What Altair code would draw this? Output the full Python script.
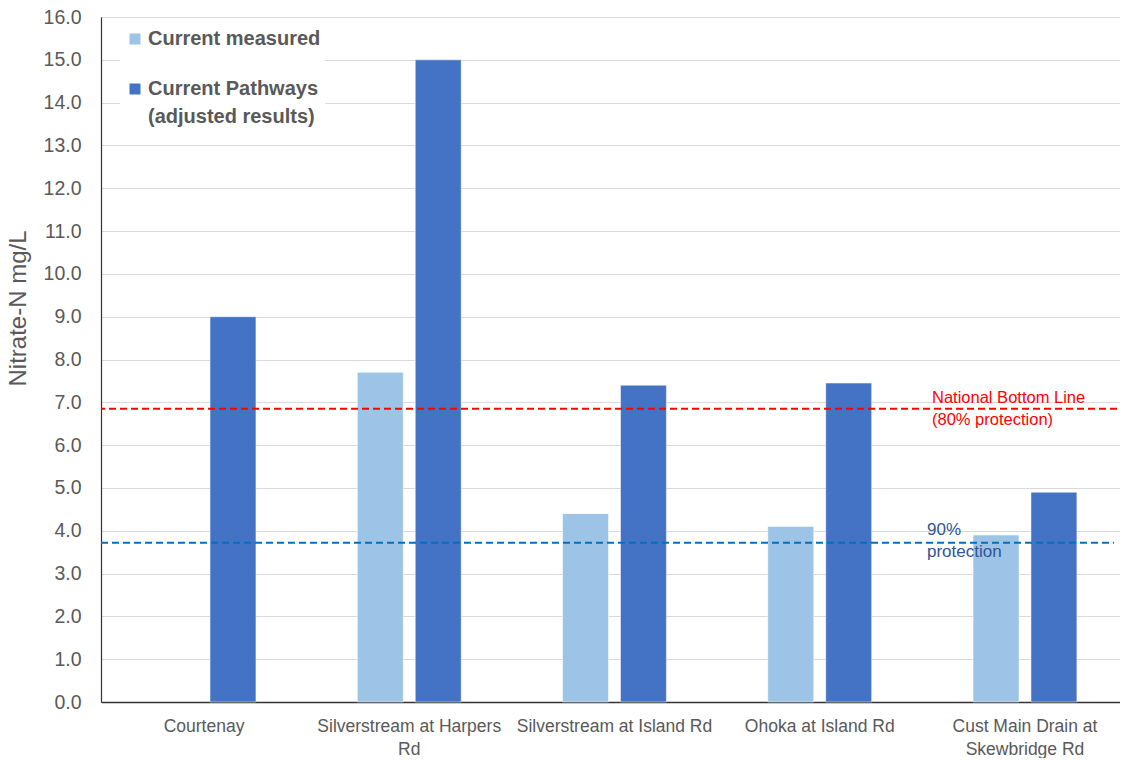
import altair as alt
import pandas as pd

sites = ["Courtenay", "Silverstream at Harpers Rd", "Silverstream at Island Rd",
         "Ohoka at Island Rd", "Cust Main Drain at Skewbridge Rd"]
measured = [None, 7.7, 4.4, 4.1, 3.9]
pathways = [9.0, 15.0, 7.4, 7.45, 4.9]
series = ["Current measured", "Current Pathways (adjusted results)"]
legend_lines = [["Current measured"], ["Current Pathways", "(adjusted results)"]]
colors = ["#9DC3E6", "#4472C4"]

nbl_value = 6.85
p90_value = 3.72

rows = []
for s, m, p in zip(sites, measured, pathways):
    if m is not None:
        rows.append({"site": s, "series": series[0], "value": m})
    rows.append({"site": s, "series": series[1], "value": p})
df = pd.DataFrame(rows)

FONT = "Liberation Sans"
GREY = "#595959"

label_expr = ("datum.value == 'Silverstream at Harpers Rd' ? ['Silverstream at Harpers', 'Rd'] : "
              "datum.value == 'Cust Main Drain at Skewbridge Rd' ? ['Cust Main Drain at', 'Skewbridge Rd'] : datum.value")

x_enc = alt.X("site:N", sort=sites, title=None,
              scale=alt.Scale(paddingInner=0.494, paddingOuter=0.249),
              axis=alt.Axis(labelAngle=0, labelExpr=label_expr, labelFont=FONT,
                            labelFontSize=17.5, labelColor=GREY, ticks=False, labelLimit=400,
                            domainColor="#333333", domainWidth=1.5, labelPadding=15,
                            labelLineHeight=23, labelBaseline="top"))
y_enc = alt.Y("value:Q", title="Nitrate-N mg/L",
              scale=alt.Scale(domain=[0, 16], nice=False),
              axis=alt.Axis(values=list(range(0, 17)), format=".1f", labelFont=FONT,
                            labelFontSize=19.5, labelColor=GREY, ticks=False,
                            domainColor="#333333", domainWidth=1.2, labelPadding=20,
                            gridColor="#D9D9D9", gridWidth=1.2,
                            titleFont=FONT, titleFontSize=24, titleFontWeight="normal",
                            titleColor=GREY, titleX=-71, titleY=291, titleAngle=-90,
                            titleAlign="center", titleBaseline="bottom"))

bars = alt.Chart(df).mark_bar(stroke="white", strokeOpacity=0.5, strokeWidth=1).encode(
    x=x_enc,
    xOffset=alt.XOffset("series:N", sort=series,
                        scale=alt.Scale(paddingInner=0.207, paddingOuter=0)),
    y=y_enc,
    color=alt.Color("series:N", sort=series,
                    scale=alt.Scale(domain=series, range=colors), legend=None),
)

red_line = alt.Chart(pd.DataFrame({"value": [nbl_value]})).mark_rule(
    color="#FF0000", strokeDash=[7, 4], strokeWidth=1.8).encode(y="value:Q")
blue_line = alt.Chart(pd.DataFrame({"value": [p90_value]})).mark_rule(
    color="#0070C0", strokeDash=[7, 4], strokeWidth=1.8).encode(
    y="value:Q", x=alt.value(0), x2=alt.value(1013))

red_text = alt.Chart(pd.DataFrame({"value": [nbl_value]})).mark_text(
    align="left", baseline="middle", font=FONT, fontSize=16.5, color="#FF0000",
    lineHeight=22, dy=-11).encode(
    y="value:Q", x=alt.value(831), text=alt.value(["National Bottom Line", "(80% protection)"]))
blue_text = alt.Chart(pd.DataFrame({"value": [p90_value]})).mark_text(
    align="left", baseline="middle", font=FONT, fontSize=17, color="#2F5597",
    lineHeight=22, dy=-13).encode(
    y="value:Q", x=alt.value(826), text=alt.value(["90%", "protection"]))

# legend (drawn manually, inside the plot's top-left corner)
legend_bg = alt.Chart(pd.DataFrame({"a": [0]})).mark_rect(color="white").encode(
    x=alt.value(19), x2=alt.value(224), y=alt.value(3), y2=alt.value(113))
legend_layers = [legend_bg]
for i, ypix in enumerate([22, 72]):
    d = pd.DataFrame({"label": [legend_lines[i]]})
    legend_layers.append(
        alt.Chart(d).mark_square(size=121, opacity=1, color=colors[i]).encode(
            x=alt.value(34), y=alt.value(ypix)))
    legend_layers.append(
        alt.Chart(d).mark_text(align="left", baseline="middle", font=FONT, fontSize=20,
                               fontWeight="bold", color=GREY, lineHeight=28).encode(
            x=alt.value(47), y=alt.value(ypix), text="label"))

chart = alt.layer(bars, red_line, blue_line, red_text, blue_text, *legend_layers).properties(
    width=1027, height=685,
    autosize=alt.AutoSizeParams(type="none"),
    padding={"left": 93, "top": 9, "right": -8, "bottom": 56},
).configure_view(stroke=None).configure(background="white")

chart.save("out.html", embed_options={"renderer": "svg", "actions": False})
